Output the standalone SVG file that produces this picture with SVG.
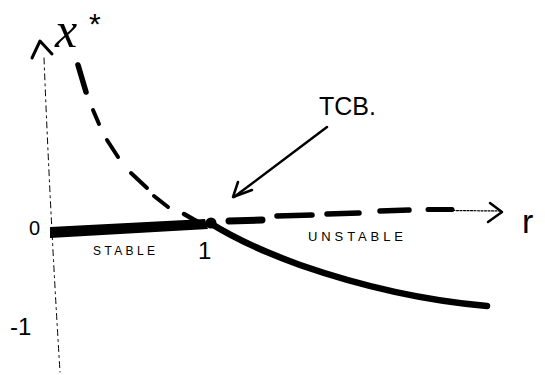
<svg xmlns="http://www.w3.org/2000/svg" width="545" height="375" viewBox="0 0 545 375">
<style>
.ink{fill:none;stroke:#000;stroke-linecap:round;stroke-linejoin:round}
.lbl{font-family:"Liberation Sans",Arial,sans-serif;fill:#000}
</style>
<rect width="545" height="375" fill="#fff"/>
<g id="axes">
<path class="ink" d="M44,58 Q50,210 60,372" stroke="#555" stroke-width="1" stroke-dasharray="6 4 2 4"/>
<path class="ink" d="M32,58 L40,41 L52,54" stroke-width="3"/>
<path class="ink" d="M453,210.5 L500,211" stroke="#333" stroke-width="1.2" stroke-dasharray="2 1.5"/>
<path class="ink" d="M490,203 L502,212 L488,222" stroke-width="2.5"/>
</g>
<g id="connectors">
<path class="ink" d="M78,65 L86,92" stroke-width="5.5"/>
<path class="ink" d="M93,110 L99,124" stroke-width="4"/>
<path class="ink" d="M107,140 L118,157" stroke-width="4"/>
<path class="ink" d="M131,173 L147,188" stroke-width="4"/>
<path class="ink" d="M154,196 L168,207" stroke-width="4"/>
<path class="ink" d="M184,214 L198,222" stroke-width="4.5"/>
<path d="M50,227 L205,219 L208,229 L50,238 Z" fill="#000"/>
<circle cx="211" cy="223" r="5.5" fill="#000"/>
<path class="ink" d="M210,223 Q245,245 300,265 Q395,298 487,306" stroke-width="6.5"/>
<path class="ink" d="M229,221 L262,220" stroke-width="7"/>
<path class="ink" d="M277,216 L312,215" stroke-width="5.5"/>
<path class="ink" d="M327,214 L359,213" stroke-width="5.5"/>
<path class="ink" d="M380,211 L409,210" stroke-width="5.5"/>
<path class="ink" d="M428,209.5 L452,209.5" stroke-width="5"/>
<path class="ink" d="M327,127 L234,197" stroke-width="2.5"/>
<path class="ink" d="M238,182 L233,197 L252,190" stroke-width="2.5"/>
</g>
<g id="labels">
<text x="55" y="47" font-size="50" font-style="italic" style="font-family:'Liberation Serif',serif" fill="#000">x</text>
<text class="lbl" x="89" y="34" font-size="30">*</text>
<text class="lbl" x="319" y="115" font-size="25">TCB.</text>
<text class="lbl" x="29" y="235" font-size="20">0</text>
<text class="lbl" x="93" y="255" font-size="12" textLength="62">STABLE</text>
<text class="lbl" x="198" y="259" font-size="24">1</text>
<text class="lbl" x="308" y="241" font-size="13" textLength="95">UNSTABLE</text>
<text class="lbl" x="10" y="335" font-size="24">-1</text>
<text class="lbl" x="522" y="233" font-size="34">r</text>
</g>
</svg>
